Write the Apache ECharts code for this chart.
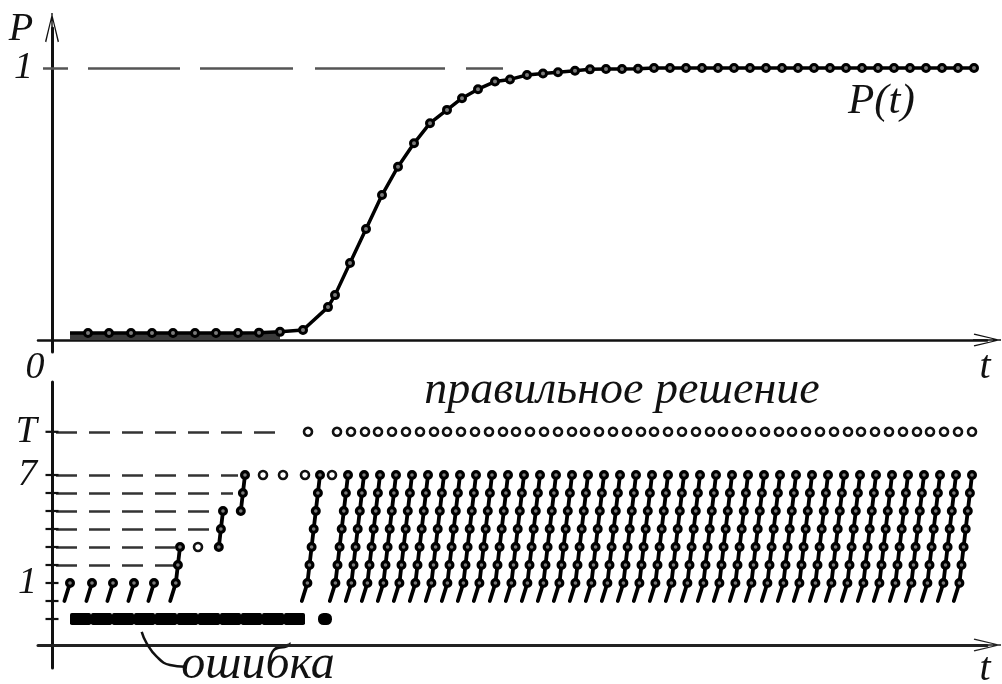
<!DOCTYPE html>
<html>
<head>
<meta charset="utf-8">
<script src="https://cdn.jsdelivr.net/npm/echarts@6/dist/echarts.min.js"></script>
<style>
  html, body { margin: 0; padding: 0; background: #fff; }
  #chart { width: 1002px; height: 684px; }
</style>
</head>
<body>
<div id="chart"></div>
<script>
// ---------- upper panel: probability P(t) of the correct answer ----------
const probT = [1.8, 3.6, 5.7, 7.9, 10.0, 12.1, 14.3, 16.4, 18.6, 20.7, 22.8, 25.1,
  27.6, 28.3, 29.8, 31.4, 33.0, 34.6, 36.2, 37.8, 39.5, 41.0, 42.6, 44.3, 45.8,
  47.5, 49.1, 50.6, 52.3, 53.8, 55.4, 57.0, 58.6, 60.2, 61.8, 63.4, 65.0, 66.6,
  68.2, 69.8, 71.4, 73.0, 74.6, 76.2, 77.8, 79.4, 81.0, 82.6, 84.2, 85.8, 87.4,
  89.0, 90.6, 92.2];
const probP = [0.026, 0.026, 0.026, 0.026, 0.026, 0.026, 0.026, 0.026, 0.026, 0.027, 0.030, 0.037,
  0.121, 0.165, 0.283, 0.408, 0.533, 0.637, 0.723, 0.797, 0.846, 0.889, 0.922, 0.950, 0.958,
  0.974, 0.980, 0.984, 0.990, 0.995, 0.996, 0.996, 0.997, 1.0, 1.0, 1.0, 1.0, 1.0,
  1.0, 1.0, 1.0, 1.0, 1.0, 1.0, 1.0, 1.0, 1.0, 1.0, 1.0, 1.0, 1.0,
  1.0, 1.0, 1.0];
// last time of the flat (near-zero) stretch
const flatUntil = 23.5;
// asymptote P = 1, drawn up to this time
const oneLineFrom = -0.9, oneLineTo = 45.1;

// ---------- lower panel: states of the search ----------
// state levels: F = error, 0 = start, 1..7 intermediate, T = correct answer
const LEVEL_F = -1;
const LEVEL_T = 9.4;
const levelTicks = [-1, 0, 1, 2, 3, 4, 5, 6, 7, 9.4];
const levelLabels = { '-1': 'F', '1': '1', '7': '7', '9.4': 'T' };

// climbing runs: time of the last step, start level, reached level
const walkT = [1.8, 4.0, 6.1, 8.2, 10.2, 12.8, 17.1, 19.3, 26.8,
  29.6, 31.2, 32.8, 34.4, 36.0, 37.6, 39.2, 40.8, 42.4, 44.0,
  45.6, 47.2, 48.8, 50.4, 52.0, 53.6, 55.2, 56.8, 58.4, 60.0,
  61.6, 63.2, 64.8, 66.4, 68.0, 69.6, 71.2, 72.8, 74.4, 76.0,
  77.6, 79.2, 80.8, 82.4, 84.0, 85.6, 87.2, 88.8, 90.4, 92.0];
const walkFrom = [0, 0, 0, 0, 0, 0, 3, 5, 0,
  0, 0, 0, 0, 0, 0, 0, 0, 0, 0,
  0, 0, 0, 0, 0, 0, 0, 0, 0, 0,
  0, 0, 0, 0, 0, 0, 0, 0, 0, 0,
  0, 0, 0, 0, 0, 0, 0, 0, 0, 0];
const walkTo = [1, 1, 1, 1, 1, 3, 5, 7, 7,
  7, 7, 7, 7, 7, 7, 7, 7, 7, 7,
  7, 7, 7, 7, 7, 7, 7, 7, 7, 7,
  7, 7, 7, 7, 7, 7, 7, 7, 7, 7,
  7, 7, 7, 7, 7, 7, 7, 7, 7, 7];

// waiting states (hollow marks)
const holdT = [14.6, 21.1, 23.1, 25.3, 28.0];
const holdLevel = [3, 7, 7, 7, 7];

// correct answers reached
const solvedT = [25.6, 28.5, 29.9, 31.3, 32.6, 34.0, 35.4, 36.8, 38.2, 39.5, 40.9,
  42.3, 43.7, 45.1, 46.4, 47.8, 49.2, 50.6, 52.0, 53.3, 54.7, 56.1, 57.5,
  58.9, 60.2, 61.6, 63.0, 64.4, 65.8, 67.1, 68.5, 69.9, 71.3, 72.7, 74.0,
  75.4, 76.8, 78.2, 79.6, 80.9, 82.3, 83.7, 85.1, 86.5, 87.8, 89.2, 90.6, 92.0];

// error intervals on the F level
const errFrom = [1.8, 3.9, 6.0, 8.2, 10.3, 12.5, 14.6, 16.8, 18.9, 21.0, 23.2, 26.6];
const errTo   = [3.9, 6.0, 8.2, 10.3, 12.5, 14.6, 16.8, 18.9, 21.0, 23.2, 25.3, 28.0];

// dashed guides from the axis to the first visit of a level
const guideLevel = [9.4, 7, 6, 5, 4, 3, 2];
const guideTo    = [22.8, 18.6, 18.1, 16.3, 16.1, 12.3, 12.3];
const guideFrom = 0.4;

// leader of the "ошибка" caption
const leaderT = [8.97, 9.47, 10.47, 11.8, 13.3];
const leaderL = [-1.71, -2.35, -3.09, -3.56, -3.65];

// ---------- drawing ----------
const SERIF = '"Liberation Serif", "DejaVu Serif", serif';
const INK = '#111';
const ARROW = 'path://M6.3,0 L7.7,0 L7.7,30 L6.3,30 Z M7,0 L14,28.6 L12.7,29.2 L7,4.5 L1.3,29.2 L0,28.6 Z';
const SLANT = 2.1;     // px shift per level along a climbing run
const TAIL_DX = 3.5;   // extra shift of the tail toward the start level

function renderWalk(params, api) {
  const t = api.value(0), from = api.value(1), to = api.value(2);
  const pts = [];
  for (let lv = from; lv <= to; lv++) {
    const p = api.coord([t, lv]);
    pts.push([p[0] - SLANT * (to - lv), p[1]]);
  }
  let firstDot = 0;
  if (from === 0) { pts[0][0] -= TAIL_DX; firstDot = 1; }
  const children = [{
    type: 'polyline',
    shape: { points: pts },
    style: { stroke: '#000', lineWidth: 3.8, fill: null, lineCap: 'round' }
  }];
  for (let i = firstDot; i < pts.length; i++) {
    children.push({
      type: 'circle',
      shape: { cx: pts[i][0], cy: pts[i][1], r: 3.4 },
      style: { fill: '#7a7a7a', stroke: '#000', lineWidth: 3.2 }
    });
  }
  return { type: 'group', children };
}

function renderError(params, api) {
  const a = api.coord([api.value(0), api.value(2)]);
  const b = api.coord([api.value(1), api.value(2)]);
  const w = b[0] - a[0];
  return {
    type: 'rect',
    // short isolated errors are drawn as rounded blobs, runs as a solid bar
    shape: { x: a[0], y: a[1] - 6, width: w, height: 12, r: w < 16 ? 5.5 : 1.8 },
    style: { fill: '#000' }
  };
}

const textFont = (size) => `italic ${size}px ${SERIF}`;
const axisLabelFont = { fontFamily: SERIF, fontStyle: 'italic', fontSize: 38, color: INK };

const option = {
  animation: false,
  backgroundColor: '#fff',
  grid: [
    { left: 38, right: 15, top: 28, bottom: 332, containLabel: false, outerBoundsMode: 'none' },
    { left: 38, right: 15, top: 382, bottom: 16, containLabel: false, outerBoundsMode: 'none' }
  ],
  xAxis: [
    {
      gridIndex: 0, type: 'value', min: -1.4, max: 93.5,
      axisLine: { onZero: true, symbol: ['none', ARROW], symbolSize: [15, 28],
        lineStyle: { color: INK, width: 2.5 } },
      axisTick: { show: false }, axisLabel: { show: false }, splitLine: { show: false }
    },
    {
      gridIndex: 1, type: 'value', min: -1.4, max: 93.5, offset: -23,
      axisLine: { onZero: false, symbol: ['none', ARROW], symbolSize: [15, 28],
        lineStyle: { color: '#222', width: 3 } },
      axisTick: { show: false }, axisLabel: { show: false }, splitLine: { show: false }
    }
  ],
  yAxis: [
    {
      gridIndex: 0, type: 'value', position: 'left', min: -0.0441, max: 1.147,
      axisLine: { onZero: true, symbol: ['none', ARROW], symbolSize: [14, 30],
        lineStyle: { color: INK, width: 3 } },
      axisTick: { show: false }, splitLine: { show: false },
      axisLabel: Object.assign({ customValues: [1], formatter: () => '1', margin: 5 }, axisLabelFont)
    },
    {
      gridIndex: 1, type: 'value', position: 'left', min: -3.722, max: 12.167,
      axisLine: { onZero: true, lineStyle: { color: INK, width: 3 } },
      axisTick: { show: false },
      splitLine: { show: false },
      axisLabel: Object.assign({
        customValues: [-1, 1, 7, 9.4],
        formatter: (v) => levelLabels[String(v)] || '',
        margin: 1
      }, axisLabelFont)
    }
  ],
  series: [
    // P = 1 asymptote
    {
      type: 'lines', coordinateSystem: 'cartesian2d', xAxisIndex: 0, yAxisIndex: 0,
      data: [{ coords: [[oneLineFrom, 1], [oneLineTo, 1]] }],
      lineStyle: { color: '#555', width: 2.5, opacity: 1, type: [25, 20, 92, 20, 93, 22, 130, 21, 37, 60] },
      z: 1, silent: true
    },
    // dark band under the near-zero part of the curve
    {
      type: 'line', xAxisIndex: 0, yAxisIndex: 0,
      data: probT.filter(t => t <= flatUntil).map((t, i) => [t, probP[i]]),
      symbol: 'none', lineStyle: { width: 0 },
      areaStyle: { color: '#3a3a3a', opacity: 1 }, z: 2, silent: true
    },
    // P(t)
    {
      type: 'line', name: 'P(t)', xAxisIndex: 0, yAxisIndex: 0,
      data: probT.map((t, i) => i === 0 ? { value: [t, probP[i]], symbol: 'none' } : [t, probP[i]]),
      symbol: 'circle', symbolSize: 7, showAllSymbol: true,
      lineStyle: { color: '#000', width: 3.5 },
      itemStyle: { color: '#7a7a7a', borderColor: '#000', borderWidth: 3 },
      z: 5
    },
    // level ticks crossing the lower axis
    {
      type: 'scatter', xAxisIndex: 1, yAxisIndex: 1,
      data: levelTicks.map(lv => [0, lv]),
      symbol: 'rect', symbolSize: [13, 2.2],
      itemStyle: { color: INK, opacity: 1 }, z: 6, silent: true
    },
    // dashed guides in the lower panel
    {
      type: 'lines', coordinateSystem: 'cartesian2d', xAxisIndex: 1, yAxisIndex: 1,
      data: guideLevel.map((lv, i) => ({ coords: [[guideFrom, lv], [guideTo[i], lv]] })),
      lineStyle: { color: '#333', width: 2.5, opacity: 1, type: [21, 12] },
      z: 1, silent: true
    },
    // errors
    {
      type: 'custom', xAxisIndex: 1, yAxisIndex: 1,
      data: errFrom.map((f, i) => [f, errTo[i], LEVEL_F]),
      encode: { x: [0, 1], y: 2 },
      renderItem: renderError, z: 3
    },
    // climbing runs
    {
      type: 'custom', xAxisIndex: 1, yAxisIndex: 1,
      data: walkT.map((t, i) => [t, walkFrom[i], walkTo[i]]),
      encode: { x: 0, y: [1, 2] },
      renderItem: renderWalk, z: 4
    },
    // waiting states
    {
      type: 'scatter', xAxisIndex: 1, yAxisIndex: 1,
      data: holdT.map((t, i) => [t, holdLevel[i]]),
      symbol: 'circle', symbolSize: 8,
      itemStyle: { color: '#fff', borderColor: INK, borderWidth: 2.6, opacity: 1 }, z: 5
    },
    // correct answers
    {
      type: 'scatter', xAxisIndex: 1, yAxisIndex: 1,
      data: solvedT.map(t => [t, LEVEL_T]),
      symbol: 'circle', symbolSize: 8,
      itemStyle: { color: '#fff', borderColor: INK, borderWidth: 2.6, opacity: 1 }, z: 5
    },
    // caption leader
    {
      type: 'line', xAxisIndex: 1, yAxisIndex: 1,
      data: leaderT.map((t, i) => [t, leaderL[i]]),
      smooth: 0.5, symbol: 'none', clip: false,
      lineStyle: { color: INK, width: 2.5 }, z: 6, silent: true
    }
  ],
  graphic: [
    { type: 'text', x: 21, y: 29, style: { text: 'P', font: textFont(40), fill: INK, textAlign: 'center', textVerticalAlign: 'middle' } },
    { type: 'text', x: 35, y: 368, style: { text: '0', font: textFont(38), fill: INK, textAlign: 'center', textVerticalAlign: 'middle' } },
    { type: 'text', x: 985, y: 367, style: { text: 't', font: textFont(40), fill: INK, textAlign: 'center', textVerticalAlign: 'middle' } },
    { type: 'text', x: 985, y: 669, style: { text: 't', font: textFont(40), fill: INK, textAlign: 'center', textVerticalAlign: 'middle' } },
    { type: 'text', x: 848, y: 102, style: { text: 'P(t)', font: textFont(43), fill: INK, textAlign: 'left', textVerticalAlign: 'middle' } },
    { type: 'text', x: 622, y: 391, style: { text: 'правильное решение', font: textFont(46), fill: INK, textAlign: 'center', textVerticalAlign: 'middle' } },
    { type: 'text', x: 258, y: 665, style: { text: 'ошибка', font: textFont(48), fill: INK, textAlign: 'center', textVerticalAlign: 'middle' } }
  ]
};

const chart = echarts.init(document.getElementById('chart'), null, { renderer: 'canvas' });
chart.setOption(option);
</script>
</body>
</html>
